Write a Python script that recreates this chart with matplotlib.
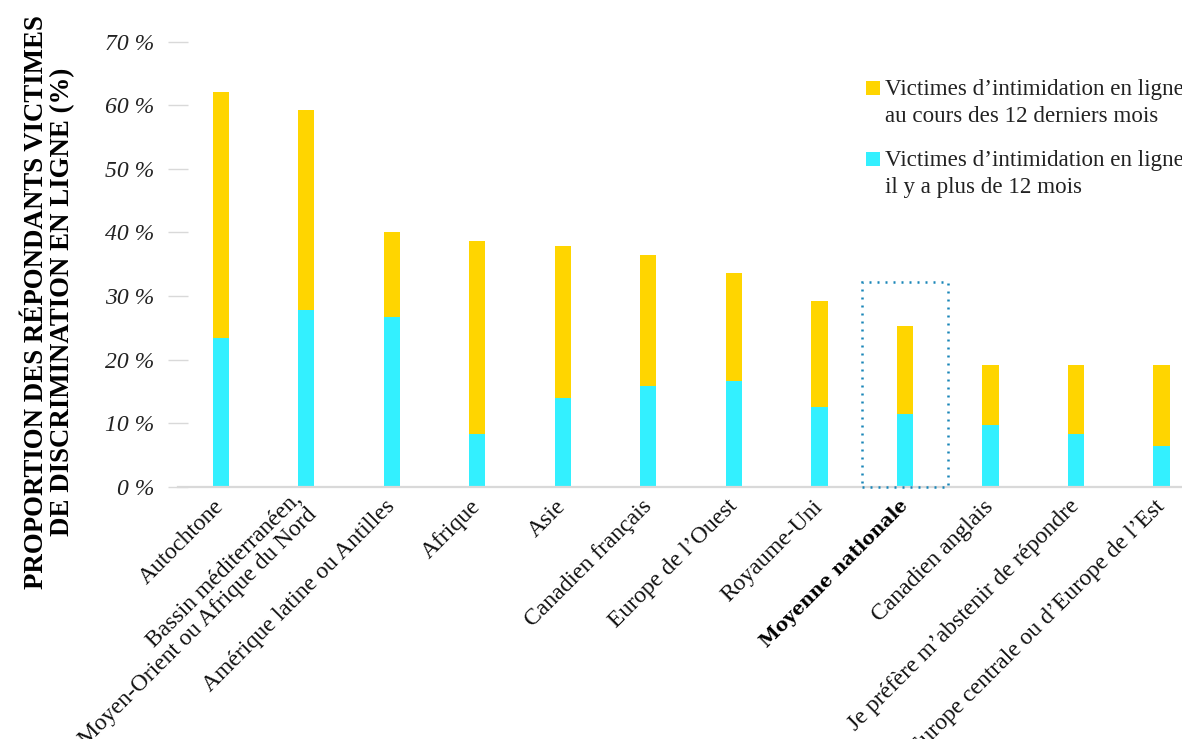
import matplotlib
matplotlib.use("Agg")
import matplotlib.pyplot as plt
from matplotlib.patches import Rectangle
import numpy as np

categories = [
    "Autochtone",
    "Bassin méditerranéen,\nMoyen-Orient ou Afrique du Nord",
    "Amérique latine ou Antilles",
    "Afrique",
    "Asie",
    "Canadien français",
    "Europe de l’Ouest",
    "Royaume-Uni",
    "Moyenne nationale",
    "Canadien anglais",
    "Je préfère m’abstenir de répondre",
    "Europe centrale ou d’Europe de l’Est",
]
older = [23.4, 27.8, 26.7, 8.3, 14.0, 15.9, 16.6, 12.5, 11.5, 9.7, 8.3, 6.4]
recent = [38.7, 31.5, 13.4, 30.3, 23.9, 20.5, 17.0, 16.7, 13.8, 9.4, 10.8, 12.7]
yticks = [0, 10, 20, 30, 40, 50, 60, 70]
ytick_labels = ["0 %", "10 %", "20 %", "30 %", "40 %", "50 %", "60 %", "70 %"]
legend_recent = "Victimes d’intimidation en ligne\nau cours des 12 derniers mois"
legend_older = "Victimes d’intimidation en ligne\nil y a plus de 12 mois"
ylabel = "PROPORTION DES RÉPONDANTS VICTIMES\nDE DISCRIMINATION EN LIGNE (%)"
highlight_index = 8
highlight_top = 32.2

YELLOW = "#FFD500"
CYAN = "#33F0FF"
SERIF = ["Liberation Serif", "DejaVu Serif"]

W, H = 1182, 739
fig = plt.figure(figsize=(W / 100, H / 100), dpi=100)
left_px, right_px, bottom_px, top_px = 178, 1182, 486.7, 41.7
ax = fig.add_axes([left_px / W, 1 - bottom_px / H, (right_px - left_px) / W, (bottom_px - top_px) / H])

x = np.arange(len(categories))
ax.bar(x, older, width=0.19, color=CYAN, zorder=2)
ax.bar(x, recent, width=0.19, bottom=older, color=YELLOW, zorder=2)

ax.set_xlim(-0.5, 11.24)
ax.set_ylim(0, 70)

for s in ["top", "right", "left"]:
    ax.spines[s].set_visible(False)
ax.spines["bottom"].set_color("#d9d9d9")
ax.spines["bottom"].set_linewidth(1.6)

ax.set_yticks(yticks)
ax.set_yticklabels(ytick_labels, fontfamily=SERIF, fontstyle="italic", fontsize=17, color="#222222")
ax.tick_params(axis="y", direction="inout", length=14, width=1, color="#d9d9d9", pad=10)

ax.set_xticks(x)
labels = ax.set_xticklabels(categories, rotation=45, ha="right", va="center",
                            rotation_mode="anchor", fontfamily=SERIF, fontsize=17,
                            color="#111111", linespacing=1.05)
ax.tick_params(axis="x", length=0, pad=12)
labels[highlight_index].set_fontweight("bold")
labels[highlight_index].set_fontfamily(["DejaVu Serif"])
labels[highlight_index].set_fontsize(13.5)
labels[highlight_index].set_color("black")

rect = Rectangle((highlight_index - 0.5, 0), 1.0, highlight_top, fill=False,
                 edgecolor="#1a86b8", linewidth=1.8, linestyle=(0, (0.8, 2.4)),
                 zorder=3, clip_on=False)
ax.add_patch(rect)

# y label
fig.text(49.5 / W, 1 - 302 / H, ylabel, rotation=90, ha="center", va="center",
         multialignment="center", fontfamily=SERIF, fontweight="bold", fontsize=19.4,
         linespacing=1.07)

# legend (manual)
def legend_entry(ypx_top, color, text):
    fig.patches.append(Rectangle((866 / W, 1 - (ypx_top + 14) / H), 14 / W, 14 / H,
                                 transform=fig.transFigure, facecolor=color,
                                 edgecolor="none"))
    fig.text(885 / W, 1 - (ypx_top - 2) / H, text, ha="left", va="top",
             fontfamily=SERIF, fontsize=16.6, color="#222222", linespacing=1.38)

legend_entry(81, YELLOW, legend_recent)
legend_entry(152, CYAN, legend_older)

fig.savefig("out.png", dpi=100)
